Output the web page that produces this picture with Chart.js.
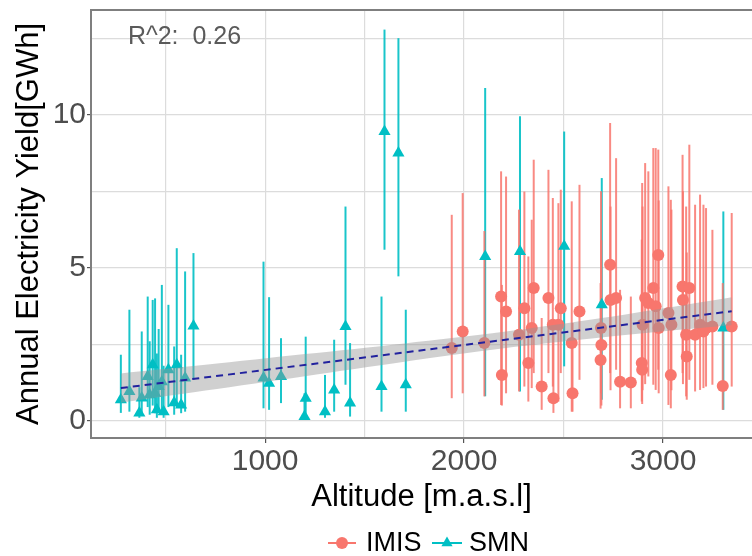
<!DOCTYPE html>
<html lang="en">
  <head>
    <meta charset="UTF-8" />
    <script src="https://cdn.jsdelivr.net/npm/chart.js"></script>
    <title>Altitude vs yield</title>
    <style>
      body { margin: 0; background: #fff; overflow: hidden; }
      #wrap { width: 752px; height: 556px; }
      canvas { display: block; }
    </style>
  </head>
  <body>
    <div id="wrap"><canvas id="myChart" width="752" height="556"></canvas></div>
    <script>
      // SMN stations (teal triangles)
      const smnAlt = [275, 318, 368, 380, 410, 420, 435, 447, 456, 465, 481, 490, 514, 543, 556, 578, 598, 640,
        992, 1020, 1080, 1198, 1204, 1301, 1347, 1404, 1427, 1585, 1600, 1670, 1707,
        2106, 2281, 2503, 2692, 3303];
      const smnVal = [0.69, 0.96, 0.26, 0.75, 1.45, 0.85, 1.83, 0.90, 0.36, 1.12, 1.28, 0.30, 1.67, 0.59, 1.83, 0.52, 1.40, 3.10,
        1.40, 1.23, 1.45, 0.14, 0.74, 0.30, 1.01, 3.08, 0.58, 1.12, 9.45, 8.75, 1.18,
        5.37, 5.53, 5.70, 3.79, 3.03];
      const smnLow = [0.26, 0.30, 0.10, 0.25, 0.45, 0.20, 0.50, 0.25, 0.10, 0.30, 0.35, 0.10, 0.45, 0.20, 0.45, 0.25, 0.30, 1.34,
        0.41, 0.36, 0.58, 0.05, 0.14, 0.10, 0.30, 1.18, 0.14, 0.30, 5.59, 4.72, 0.30,
        0.80, 0.96, 1.78, 0.69, 0.36];
      const smnHigh = [2.16, 3.63, 1.10, 2.92, 4.06, 2.60, 3.95, 4.00, 2.20, 3.00, 4.44, 1.80, 3.79, 2.43, 5.64, 2.16, 4.88, 5.48,
        5.20, 4.04, 2.70, 0.90, 2.75, 1.50, 2.65, 7.00, 2.54, 4.06, 12.78, 12.50, 3.63,
        10.87, 9.95, 9.45, 7.93, 6.84];

      // IMIS stations (red circles)
      const imisAlt = [1938, 1993, 2102, 2186, 2190, 2211, 2276, 2303, 2323, 2340, 2350, 2390, 2424, 2446, 2449, 2474, 2486,
        2541, 2545, 2580, 2686, 2688, 2690, 2734, 2736, 2764, 2784, 2838, 2893, 2895, 2897, 2910, 2926, 2951, 2963,
        2976, 2978, 3027, 3039, 3042, 3098, 3100, 3116, 3119, 3132, 3161, 3186, 3203, 3216, 3248, 3300, 3345];
      const imisVal = [2.38, 2.92, 2.54, 4.06, 1.50, 3.57, 2.81, 3.68, 1.89, 3.03, 4.34, 1.12, 4.01, 3.14, 0.74, 3.14, 3.68,
        2.54, 0.90, 3.57, 1.99, 3.03, 2.48, 5.10, 3.95, 4.01, 1.28, 1.25, 1.89, 1.67, 3.14, 4.01, 3.85, 4.34, 3.74,
        5.42, 3.03, 3.52, 1.50, 3.14, 4.39, 3.95, 2.81, 2.10, 4.34, 2.81, 3.14, 2.92, 3.03, 3.08, 1.14, 3.08];
      const imisLow = [0.74, 0.90, 0.80, 0.52, 0.50, 0.90, 0.96, 1.12, 0.63, 1.07, 1.56, 0.36, 1.56, 1.12, 0.26, 0.63, 1.56,
        0.30, 0.30, 1.34, 0.40, 0.90, 0.50, 1.56, 1.00, 1.67, 0.41, 0.41, 0.63, 0.55, 1.00, 1.20, 1.45, 1.18, 1.01,
        1.67, 0.90, 0.52, 0.41, 1.00, 1.56, 1.20, 0.80, 0.69, 1.34, 0.96, 1.01, 1.07, 1.12, 1.18, 0.36, 1.12];
      const imisHigh = [6.73, 7.44, 6.20, 8.15, 4.44, 7.98, 6.90, 7.49, 5.37, 6.57, 8.53, 3.36, 8.20, 7.28, 2.90, 7.11, 7.55,
        7.17, 3.20, 7.71, 4.50, 7.50, 5.90, 9.73, 7.00, 8.58, 4.28, 4.06, 5.92, 7.77, 7.00, 8.42, 8.15, 8.91, 8.91,
        8.86, 7.20, 7.66, 7.22, 6.90, 8.69, 7.50, 7.00, 5.50, 9.02, 7.06, 7.39, 7.06, 6.95, 6.24, 4.50, 6.79];

      // linear fit and its confidence band
      const fitAlt = [275, 3345];
      const fitVal = [1.07, 3.58];
      const bandAlt = [275, 700, 1200, 1700, 2200, 2700, 3100, 3345];
      const bandLow = [0.59, 0.99, 1.46, 1.93, 2.37, 2.73, 2.98, 3.12];
      const bandHigh = [1.55, 1.83, 2.18, 2.53, 2.91, 3.37, 3.78, 4.04];

      // grid positions (major ones get a label)
      const xGrid = [500, 1000, 1500, 2000, 2500, 3000];
      const xTicks = [1000, 2000, 3000];
      const yGrid = [0, 2.5, 5, 7.5, 10, 12.5];
      const yTicks = [0, 5, 10];
      const rSquared = 'R^2:  0.26';

      const RED = '#F8766D';
      const TEAL = '#00BFC4';
      const FONT = "'Liberation Sans', Arial, sans-serif";

      const pts = (xs, ys) => xs.map((x, i) => ({ x: x, y: ys[i] }));

      // error bars, drawn before the points
      const errorBars = {
        id: 'errorBars',
        beforeDatasetsDraw(chart) {
          const { ctx, scales: { x, y } } = chart;
          ctx.save();
          ctx.lineWidth = 2;
          const draw = (alt, lo, hi, color) => {
            ctx.strokeStyle = color;
            alt.forEach((a, i) => {
              const px = x.getPixelForValue(a);
              ctx.beginPath();
              ctx.moveTo(px, y.getPixelForValue(lo[i]));
              ctx.lineTo(px, y.getPixelForValue(hi[i]));
              ctx.stroke();
            });
          };
          draw(smnAlt, smnLow, smnHigh, 'rgba(0,191,196,0.9)');
          draw(imisAlt, imisLow, imisHigh, 'rgba(248,118,109,0.85)');
          ctx.restore();
        }
      };

      // panel border (top), R^2 label and the legend under the axis title
      const extras = {
        id: 'extras',
        afterDraw(chart) {
          const { ctx, chartArea, scales: { x, y } } = chart;
          ctx.save();
          ctx.strokeStyle = '#7f7f7f';
          ctx.lineWidth = 2;
          ctx.beginPath();
          ctx.moveTo(chartArea.left, chartArea.top);
          ctx.lineTo(chartArea.right, chartArea.top);
          ctx.stroke();

          ctx.fillStyle = '#5a5a5a';
          ctx.font = '25px ' + FONT;
          ctx.textAlign = 'center';
          ctx.textBaseline = 'alphabetic';
          ctx.fillText(rSquared, x.getPixelForValue(595), y.getPixelForValue(12.3));

          // legend
          const ly = 543;
          ctx.lineWidth = 2;
          ctx.strokeStyle = RED;
          ctx.beginPath(); ctx.moveTo(328, ly); ctx.lineTo(356, ly); ctx.stroke();
          ctx.fillStyle = RED;
          ctx.beginPath(); ctx.arc(342, ly, 6, 0, Math.PI * 2); ctx.fill();
          ctx.strokeStyle = TEAL;
          ctx.beginPath(); ctx.moveTo(432, ly); ctx.lineTo(462, ly); ctx.stroke();
          ctx.fillStyle = TEAL;
          ctx.beginPath();
          ctx.moveTo(447, ly - 6.5); ctx.lineTo(452.6, ly + 3.3); ctx.lineTo(441.4, ly + 3.3);
          ctx.closePath(); ctx.fill();
          ctx.fillStyle = '#000';
          ctx.font = '27px ' + FONT;
          ctx.textAlign = 'left';
          ctx.textBaseline = 'middle';
          ctx.fillText('IMIS', 366, ly + 1);
          ctx.fillText('SMN', 469, ly + 1);
          ctx.restore();
        }
      };

      const ctx = document.getElementById('myChart').getContext('2d');
      new Chart(ctx, {
        type: 'scatter',
        data: {
          datasets: [
            {
              label: 'fit',
              type: 'line',
              data: pts(fitAlt, fitVal),
              borderColor: '#22229e',
              borderWidth: 2,
              borderDash: [7, 5],
              pointRadius: 0,
              fill: false,
              order: 1
            },
            {
              label: 'bandHigh',
              type: 'line',
              data: pts(bandAlt, bandHigh),
              borderWidth: 0,
              borderColor: 'rgba(0,0,0,0)',
              backgroundColor: 'rgba(150,150,150,0.45)',
              pointRadius: 0,
              tension: 0.3,
              fill: 2,
              order: 2
            },
            {
              label: 'bandLow',
              type: 'line',
              data: pts(bandAlt, bandLow),
              borderWidth: 0,
              borderColor: 'rgba(0,0,0,0)',
              pointRadius: 0,
              tension: 0.3,
              fill: false,
              order: 2
            },
            {
              label: 'IMIS',
              data: pts(imisAlt, imisVal),
              pointStyle: 'circle',
              pointRadius: 6,
              backgroundColor: RED,
              borderWidth: 0,
              order: 3
            },
            {
              label: 'SMN',
              data: pts(smnAlt, smnVal),
              pointStyle: 'triangle',
              pointRadius: 7,
              backgroundColor: TEAL,
              borderWidth: 0,
              order: 3
            }
          ]
        },
        options: {
          responsive: false,
          animation: false,
          layout: { autoPadding: false, padding: { top: 10, right: 0, left: 0, bottom: 0 } },
          plugins: { legend: { display: false }, tooltip: { enabled: false } },
          scales: {
            x: {
              type: 'linear',
              min: 125,
              max: 3447,
              afterBuildTicks: (s) => { s.ticks = xGrid.map((v) => ({ value: v })); },
              afterFit: (s) => {
                s.height = 118;
                s.paddingLeft = 0;
                s.paddingRight = 0;
              },
              ticks: {
                autoSkip: false,
                maxRotation: 0,
                padding: 1,
                color: '#4d4d4d',
                font: { size: 30, family: FONT },
                callback: (v) => xTicks.includes(v) ? String(v) : ''
              },
              grid: {
                color: '#dcdcdc',
                lineWidth: 1.2,
                tickLength: 5,
                tickColor: (c) => c.tick && xTicks.includes(c.tick.value) ? '#555' : 'rgba(0,0,0,0)'
              },
              border: { display: true, color: '#7f7f7f', width: 2 },
              title: {
                display: true,
                text: 'Altitude [m.a.s.l]',
                color: '#000',
                font: { size: 31, family: FONT },
                padding: { top: 0, bottom: 40 }
              }
            },
            y: {
              type: 'linear',
              min: -0.56,
              max: 13.42,
              afterBuildTicks: (s) => { s.ticks = yGrid.map((v) => ({ value: v })); },
              afterFit: (s) => {
                s.width = 91;
                s.paddingTop = 0;
                s.paddingBottom = 0;
              },
              ticks: {
                autoSkip: false,
                padding: 1,
                color: '#4d4d4d',
                font: { size: 30, family: FONT },
                callback: (v) => yTicks.includes(v) ? String(v) : ''
              },
              grid: {
                color: '#dcdcdc',
                lineWidth: 1.2,
                tickLength: 4,
                tickColor: (c) => c.tick && yTicks.includes(c.tick.value) ? '#555' : 'rgba(0,0,0,0)'
              },
              border: { display: true, color: '#7f7f7f', width: 2 },
              title: {
                display: true,
                text: 'Annual Electricity Yield[GWh]',
                color: '#000',
                font: { size: 31, family: FONT },
                padding: { top: 11, bottom: 0 }
              }
            }
          }
        },
        plugins: [errorBars, extras]
      });
    </script>
  </body>
</html>
